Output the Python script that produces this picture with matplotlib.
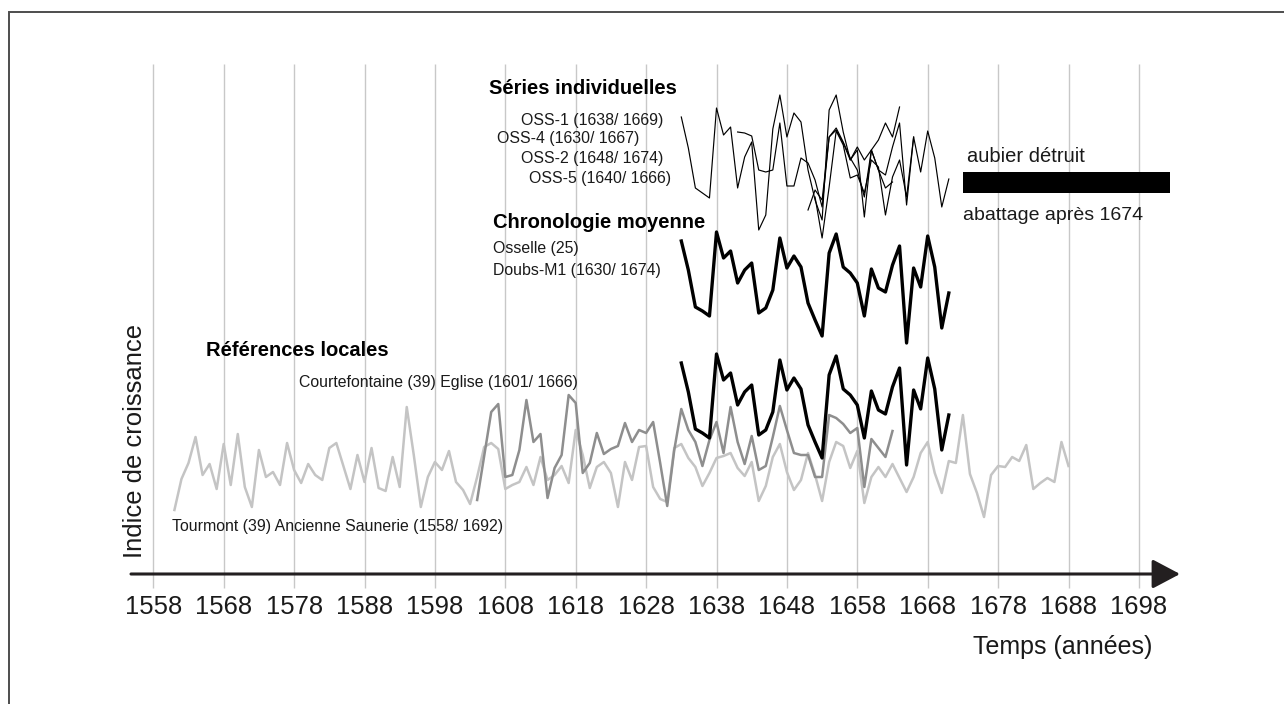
"""Dendro synchronisation plate: Osselle series vs. local references.

Thin lines = individual series, thick black = mean chronology (drawn twice:
once on its own, once over the reference curves), grey = local references.
"""
import numpy as np
import matplotlib.pyplot as plt
from matplotlib import font_manager

# ---- data (growth indices, arbitrary units, one value per year) ----
tourmont_start = 1561
tourmont = [10, 41, 57, 83, 45, 56, 31, 76, 35, 86,
            33, 13, 70, 43, 48, 35, 77, 50, 37, 56,
            45, 40, 72, 77, 54, 31, 65, 38, 72, 32,
            29, 63, 33, 113, 65, 13, 43, 58, 50, 69,
            38, 30, 16, 43, 73, 77, 71, 31, 35, 38,
            53, 35, 63, 40, 45, 54, 37, 90, 65, 32,
            53, 58, 47, 13, 58, 40, 73, 74, 33, 21,
            18, 72, 76, 62, 53, 34, 47, 62, 64, 67,
            52, 44, 58, 19, 34, 63, 76, 48, 30, 40,
            67, 45, 19, 58, 78, 74, 52, 69, 17, 43,
            53, 43, 56, 42, 28, 43, 67, 78, 47, 27,
            59, 57, 105, 46, 27, 3, 45, 54, 53, 63,
            59, 75, 31, 37, 42, 38, 78, 54]

courte_start = 1604
courtefontaine = [10, 54, 98, 106, 33, 35, 60, 110, 68, 76,
                  12, 42, 55, 115, 107, 37, 47, 77, 56, 61,
                  64, 87, 68, 80, 77, 88, 47, 4, 60, 101,
                  80, 68, 44, 70, 88, 57, 103, 68, 46, 74,
                  40, 44, 73, 104, 80, 57, 55, 55, 33, 33,
                  95, 92, 86, 77, 82, 23, 71, 62, 53, 79]

mean_start = 1633
doubs_m1 = [104, 75, 38, 34, 29, 113, 87, 94, 62, 75,
            82, 32, 37, 55, 107, 77, 89, 78, 42, 25,
            9, 92, 111, 78, 72, 62, 29, 76, 57, 53,
            80, 99, 2, 77, 58, 109, 78, 17, 52]

oss4_start, oss4 = 1633, [123, 92, 52, 47, 42, 132, 105, 113, 52, 83,
                          98, 10, 25, 111, 145, 103, 127, 118, 70, 40,
                          20, 130, 145, 108, 80, 90, 23, 90, 70, 65,
                          93, 117, 35, 103, 68, 109, 82, 33, 61]
oss1_start, oss1 = 1641, [108, 107, 104, 70, 68, 70, 117, 54, 54, 82,
                          77, 60, 33, 103, 110, 97, 80, 93, 80, 90,
                          100, 117, 103, 133]
oss2_start, oss2 = 1651, [30, 50, 40, 103, 112, 98, 82, 70, 43, 90, 70, 52, 58]
oss5_start, oss5 = 1652, [43, 2, 53, 109, 95, 62, 65, 47, 80, 73, 25, 63, 80, 43, 103]

sapwood_from, sapwood_to = 1673, 1702.4
tick_years = list(range(1558, 1699, 10))

# ---- fonts: narrow face if present, otherwise shrink the regular one ----
names = {f.name for f in font_manager.fontManager.ttflist}
if "Liberation Sans Narrow" in names:
    NARROW, k = "Liberation Sans Narrow", 1.0
else:
    NARROW, k = "Liberation Sans", 0.82
REG = "Liberation Sans"
INK = "#1a1a1a"

W, H = 1284, 704
fig = plt.figure(figsize=(W / 100, H / 100), dpi=100)

# main axes: x in years, y in screen units (top = 0)
ax = fig.add_axes([0, 0, 1, 1])
px_per_year = 7.04
x0 = 1558 - 153.3 / px_per_year
ax.set_xlim(x0, x0 + W / px_per_year)
ax.set_ylim(H, 0)
ax.axis("off")

# overlay axes in pixel units for labels/frame
lab = fig.add_axes([0, 0, 1, 1])
lab.set_xlim(0, W)
lab.set_ylim(H, 0)
lab.axis("off")
lab.patch.set_alpha(0)


def yrs(start, vals):
    return np.arange(start, start + len(vals))


def track(base, vals):
    return base - np.asarray(vals, dtype=float)


# grid
ax.vlines(tick_years, 64, 588, color="#c8c8c8", lw=1.0, zorder=0)

# local references
ax.plot(yrs(tourmont_start, tourmont), track(520, tourmont),
        color="#c4c4c4", lw=1.8, zorder=2)
ax.plot(yrs(courte_start, courtefontaine), track(510, courtefontaine),
        color="#8e8e8e", lw=1.8, zorder=3)
ax.plot(yrs(mean_start, doubs_m1), track(467, doubs_m1),
        color="black", lw=2.4, zorder=4)

# mean chronology
ax.plot(yrs(mean_start, doubs_m1), track(345, doubs_m1),
        color="black", lw=2.4, zorder=4)

# individual series
for start, vals in [(oss4_start, oss4), (oss1_start, oss1),
                    (oss2_start, oss2), (oss5_start, oss5)]:
    ax.plot(yrs(start, vals), track(240, vals), color="black", lw=0.85, zorder=5)

# destroyed sapwood bar
ax.broken_barh([(sapwood_from, sapwood_to - sapwood_from)], (171.7, 21.6),
               facecolors="black", zorder=5)

# time axis with arrow
lab.annotate("", xy=(1180, 574), xytext=(131, 574),
             arrowprops=dict(arrowstyle="-|>,head_length=0.85,head_width=0.45",
                             mutation_scale=20, lw=2.2, color="#231f20",
                             shrinkA=0, shrinkB=0))
for y in tick_years:
    xp = 153.3 + (y - 1558) * px_per_year
    lab.text(xp, 607, str(y), ha="center", va="center",
             family=NARROW, fontsize=22.5 * k, color=INK)
lab.text(1152, 647, "Temps (années)", ha="right", va="center",
         family=NARROW, fontsize=22 * k, color=INK)
lab.text(135, 441, "Indice de croissance", ha="center", va="center",
         rotation=90, family=NARROW, fontsize=22.5 * k, color=INK)

# group headings and series labels
bold = dict(family=REG, fontsize=14.5, fontweight="bold", color="black",
            ha="left", va="center")
small = dict(family=NARROW, fontsize=14 * k, color=INK, ha="left", va="center")
lab.text(489, 89, "Séries individuelles", **bold)
lab.text(521, 120, "OSS-1 (1638/ 1669)", **small)
lab.text(497, 139, "OSS-4 (1630/ 1667)", **small)
lab.text(521, 158, "OSS-2 (1648/ 1674)", **small)
lab.text(529, 178, "OSS-5 (1640/ 1666)", **small)

lab.text(493, 223, "Chronologie moyenne", **bold)
lab.text(493, 249, "Osselle (25)", **small)
lab.text(493, 271, "Doubs-M1 (1630/ 1674)", **small)

lab.text(206, 351, "Références locales", **bold)
lab.text(299, 383, "Courtefontaine (39) Eglise (1601/ 1666)", **small)
lab.text(172, 527, "Tourmont (39) Ancienne Saunerie (1558/ 1692)", **small)

lab.text(967, 157, "aubier détruit", family=REG, fontsize=14.5, color=INK,
         ha="left", va="center")
lab.text(963, 215, "abattage après 1674", family=REG, fontsize=14, color=INK,
         ha="left", va="center")

# plate frame (left and top edges)
lab.plot([9, 9, W], [H, 12, 12], color="#4d4d4d", lw=1.4,
         solid_joinstyle="miter")

fig.savefig("out.png", dpi=100)
plt.close(fig)
